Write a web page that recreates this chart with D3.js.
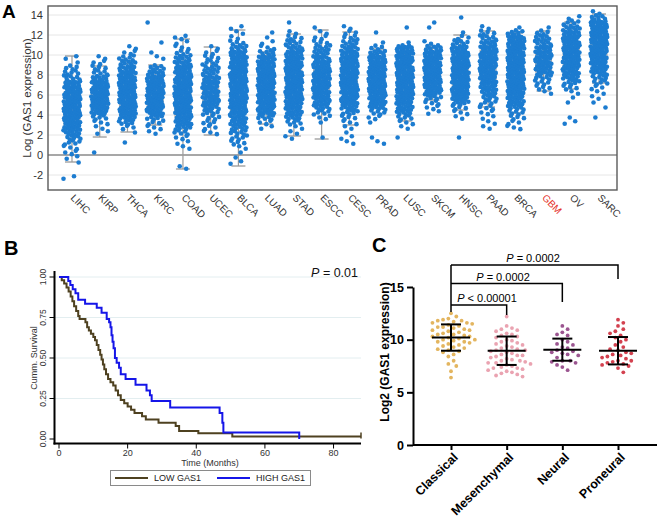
<!DOCTYPE html>
<html><head><meta charset="utf-8">
<script src="https://cdn.jsdelivr.net/npm/d3@7"></script>
<style>body{margin:0;background:#fff;}svg{display:block;}</style>
</head><body><svg id="c" width="660" height="517"></svg>
<script>
// ---------------- Panel A data ----------------
const cancerTypes = ["LIHC","KIRP","THCA","KIRC","COAD","UCEC","BLCA","LUAD","STAD","ESCC","CESC","PRAD","LUSC","SKCM","HNSC","PAAD","BRCA","GBM","OV","SARC"];
const highlightType = "GBM";
const yTicksA = [-2,0,2,4,6,8,10,12,14];
// [lower whisker, q1, median, q3, upper whisker]
const boxStats = [
  [-0.7,3.0,4.6,6.3,9.9],[1.8,4.6,5.6,6.7,8.9],[2.3,4.5,5.8,7.0,9.4],[3.0,4.8,5.8,6.8,9.0],
  [-1.4,3.8,5.8,7.6,11.6],[2.0,4.9,6.3,7.6,10.8],[-1.1,4.4,6.5,8.3,12.5],[3.1,5.6,6.8,8.1,10.3],
  [1.9,5.5,7.0,8.5,12.1],[1.6,5.9,7.6,9.0,12.5],[3.0,6.2,7.6,9.2,12.3],[4.7,6.3,7.3,8.4,10.6],
  [3.4,5.9,7.3,8.7,10.7],[5.5,7.0,8.0,9.1,10.9],[4.5,6.8,8.0,9.2,12.0],[4.8,7.5,9.0,10.5,12.4],
  [4.2,6.8,8.6,9.9,12.2],[6.4,8.3,9.3,10.3,12.4],[6.6,8.9,10.0,11.0,13.3],[7.2,9.8,10.8,11.8,14.1]
];
// number of samples in each 0.5-wide expression band, starting at densityStart
const binSize = 0.5;
const densityStart = [-2.5,0,1,2,-1.5,2,-1,2.5,1.5,1.5,1,1,1.5,4,1.5,2.5,2.5,6,3,3.5];
const densityCounts = [
  [2,0,0,1,2,3,3,5,6,8,10,12,13,14,14,14,14,13,12,10,6,5,4,1,2],
  [1,0,0,0,2,2,3,5,9,12,14,14,14,13,12,8,5,4,3,2],
  [1,0,1,3,6,9,12,14,14,14,14,14,14,13,11,9,7,5,3,2],
  [2,3,4,6,10,13,14,14,14,14,13,11,8,6,0,2,1,0,1,0,0,0,1],
  [2,0,0,0,2,2,3,5,7,9,11,12,13,14,14,14,14,14,13,12,11,9,7,4,3,2,3],
  [3,3,4,4,6,7,9,10,10,10,10,9,7,6,5,4,3,2],
  [2,1,1,2,4,5,6,7,8,9,11,12,13,14,14,14,14,14,14,14,13,12,10,7,4,2,2,2],
  [2,3,6,10,13,14,14,14,14,14,14,14,13,12,10,6,3,2,1,1],
  [2,2,2,5,7,9,11,13,14,14,14,14,14,14,14,13,12,10,8,6,4,2,0,1],
  [1,0,0,1,3,5,7,9,11,12,13,13,13,13,12,11,9,7,6,4,3,2,1],
  [2,2,1,2,3,4,6,8,11,13,14,14,14,14,14,14,13,12,10,8,6,4,3,2],
  [2,1,0,0,1,3,5,8,11,13,14,14,14,14,14,14,13,11,8,4,1,0,1],
  [1,0,2,3,5,7,9,11,13,14,14,14,14,14,14,14,13,12,9,1,0,0,1],
  [2,3,4,6,10,13,14,14,14,14,14,13,11,7,2,0,0,1,1],
  [1,0,0,0,2,3,4,7,10,13,14,14,14,14,14,14,13,12,9,6,3,1,0,0,1],
  [2,2,2,3,4,5,6,7,9,11,12,13,13,13,13,12,10,8,6,4,2],
  [3,3,4,5,7,9,11,13,14,14,14,14,14,14,14,14,14,13,11,6,1],
  [2,4,5,6,8,9,10,10,10,9,7,6,4,1],
  [2,1,0,0,1,1,2,4,6,8,10,11,12,13,13,13,13,12,10,8,5,2],
  [1,0,1,1,2,2,3,5,6,8,10,12,13,14,14,14,14,14,13,11,6,2]
];

// ---------------- Panel B data ----------------
const kmLowTime = [0,0.8,1.5,2.2,2.8,3.4,3.9,4.4,5.0,5.6,6.0,7.7,8.2,8.7,9.3,10.0,10.5,11.0,11.5,12.0,12.4,12.8,13.2,13.7,14.3,15.0,15.8,16.5,17.2,18.0,19.0,20.0,21.0,22.0,24.2,25.3,29.0,34.0,35.0,40.6,50.5,88];
const kmLowSurv = [1.0,0.98,0.96,0.935,0.91,0.88,0.85,0.82,0.79,0.76,0.74,0.72,0.69,0.67,0.65,0.63,0.61,0.58,0.55,0.52,0.49,0.46,0.43,0.40,0.37,0.35,0.33,0.30,0.27,0.24,0.22,0.20,0.18,0.16,0.14,0.12,0.10,0.08,0.05,0.035,0.015,0.015];
const kmHighTime = [0,2.7,3.3,4.0,4.8,5.6,7.6,11.0,12.4,13.9,14.6,15.0,15.3,15.6,15.9,16.3,16.8,17.5,18.0,19.4,22.3,25.5,26.5,27.0,32.4,46.8,47.6,47.9,70];
const kmHighSurv = [1.0,0.975,0.95,0.925,0.9,0.86,0.835,0.81,0.78,0.74,0.72,0.69,0.64,0.6,0.56,0.5,0.47,0.44,0.40,0.37,0.335,0.30,0.27,0.235,0.195,0.16,0.10,0.04,0.0];
const kmXTicks = [0,20,40,60,80];
const kmYTicks = [0,0.25,0.5,0.75,1.0];
const kmLabels = ["LOW GAS1","HIGH GAS1"];
const kmPValue = "0.01";

// ---------------- Panel C data ----------------
const subtypes = ["Classical","Mesenchymal","Neural","Proneural"];
const classicalVals = [12.5,12.2,12.0,11.9,11.8,11.8,11.7,11.6,11.6,11.5,11.4,11.3,11.2,11.2,11.1,11.0,10.9,10.9,10.8,10.7,10.6,10.5,10.5,10.4,10.3,10.3,10.2,10.1,10.0,10.0,9.9,9.8,9.8,9.7,9.6,9.5,9.4,9.3,9.2,9.1,9.0,8.9,8.8,8.6,8.4,8.0,7.7,7.5,7.0,6.4];
const mesenchymalVals = [12.2,11.3,11.1,11.0,10.9,10.8,10.6,10.5,10.4,10.3,10.2,10.0,9.9,9.8,9.7,9.6,9.5,9.4,9.3,9.2,9.1,9.0,9.0,8.9,8.8,8.7,8.6,8.5,8.5,8.4,8.3,8.2,8.1,8.0,8.0,7.9,7.8,7.8,7.7,7.6,7.5,7.4,7.3,7.3,7.2,7.1,7.0,6.9,6.8,6.7,6.6,6.5];
const neuralVals = [11.3,11.0,10.7,10.5,10.4,10.0,9.8,9.6,9.5,9.3,9.2,9.0,8.9,8.8,8.7,8.6,8.5,8.3,8.0,8.0,7.9,7.8,7.6,7.4,7.1];
const proneuralVals = [11.9,11.6,11.3,11.0,10.8,10.6,10.4,10.2,10.0,9.8,9.5,9.3,9.1,9.0,8.8,8.7,8.6,8.5,8.4,8.3,8.2,8.0,8.0,7.9,7.8,7.7,7.6,7.5,7.3,6.9];
const subtypeMean = [10.2,8.95,9.05,8.95];
const subtypeSD = [1.25,1.35,1.05,1.3];
const subtypeColors = ["#e3b55f","#eaa3b1","#9b5590","#d3414f"];
const yTicksC = [0,5,10,15];
const comparisons = [["Classical","Mesenchymal","< 0.00001"],["Classical","Neural","= 0.0002"],["Classical","Proneural","= 0.0002"]];

// ---------------- Drawing ----------------
const FONT = 'Arial, "Liberation Sans", Helvetica, sans-serif';
const svg = d3.select("#c").style("font-family", FONT);

// ===== Panel A =====
const gA = svg.append("g");
const A = {l:48, r:617, t:6, b:190};
const xA = d3.scalePoint().domain(cancerTypes).range([72, 599]);
const yA = d3.scaleLinear().domain([-3.5, 14.9]).range([A.b, A.t]);

gA.selectAll("line.grid").data(yTicksA.filter(d => d !== 0)).join("line")
  .attr("x1", A.l).attr("x2", A.r).attr("y1", d => yA(d)).attr("y2", d => yA(d))
  .attr("stroke", "#e6e6e6").attr("stroke-width", 1);
gA.append("line").attr("x1", A.l).attr("x2", A.r).attr("y1", yA(0)).attr("y2", yA(0))
  .attr("stroke", "#8a8a8a").attr("stroke-width", 1.5);

const axAy = gA.append("g").attr("transform", `translate(${A.l},0)`)
  .call(d3.axisLeft(yA).tickValues(yTicksA).tickSize(0).tickPadding(5).tickFormat(d => String(d)));
axAy.select(".domain").remove();
axAy.selectAll("text").attr("font-size", 11).attr("fill", "#333").attr("font-family", FONT);

const axAx = gA.append("g").attr("transform", `translate(0,${A.b})`)
  .call(d3.axisBottom(xA).tickSize(0));
axAx.select(".domain").remove();
axAx.selectAll("text").attr("x", 0).attr("y", 0).attr("dy", "0.35em")
  .attr("transform", "translate(0,6) rotate(45)").style("text-anchor", "start")
  .attr("font-size", 10).attr("font-family", FONT)
  .attr("fill", d => d === highlightType ? "#e4322b" : "#333");

gA.append("text").attr("transform", `translate(27,${(A.t + A.b) / 2}) rotate(-90)`)
  .attr("text-anchor", "middle").attr("dy", "0.35em").attr("font-size", 11.5).attr("fill", "#333")
  .text("Log (GAS1 expression)");

// boxes & whiskers
const boxG = gA.append("g");
cancerTypes.forEach((c, i) => {
  const [lo, q1, md, q3, hi] = boxStats[i];
  const cx = xA(c);
  boxG.append("rect").attr("x", cx - 8).attr("width", 16).attr("y", yA(q3)).attr("height", yA(q1) - yA(q3))
    .attr("fill", "#d6d6d6").attr("stroke", "#a8a8a8").attr("stroke-width", 1);
  boxG.append("line").attr("x1", cx).attr("x2", cx).attr("y1", yA(hi)).attr("y2", yA(lo)).attr("stroke", "#9a9a9a").attr("stroke-width", 1.2);
  [lo, hi].forEach(v => boxG.append("line").attr("x1", cx - 7).attr("x2", cx + 7).attr("y1", yA(v)).attr("y2", yA(v)).attr("stroke", "#9a9a9a").attr("stroke-width", 1.3));
});

// jittered samples
const dotsA = [];
densityCounts.forEach((counts, ci) => {
  const cx = xA(cancerTypes[ci]);
  counts.forEach((n, k) => {
    const lo = densityStart[ci] + k * binSize;
    for (let i = 0; i < n; i++) {
      const v = lo + (i + 0.5) / n * binSize;
      const u = (i * 0.618034 + k * 0.2971 + ci * 0.173) % 1;
      dotsA.push({x: cx + (u - 0.5) * 17, y: yA(v)});
    }
  });
});
gA.append("g").selectAll("circle").data(dotsA).join("circle")
  .attr("cx", d => d.x).attr("cy", d => d.y).attr("r", 2.3).attr("fill", "#1c7cd0");

gA.append("rect").attr("x", A.l).attr("y", A.t).attr("width", A.r - A.l).attr("height", A.b - A.t)
  .attr("fill", "none").attr("stroke", "#5a5a5a").attr("stroke-width", 1.4);

// panel labels
svg.append("text").attr("x", 2).attr("y", 18).attr("font-size", 19).attr("font-weight", "bold").text("A");
svg.append("text").attr("x", 4).attr("y", 255).attr("font-size", 20).attr("font-weight", "bold").text("B");
svg.append("text").attr("x", 372).attr("y", 252).attr("font-size", 20).attr("font-weight", "bold").text("C");

// ===== Panel B =====
const gB = svg.append("g");
const xB = d3.scaleLinear().domain([0, 88]).range([59, 361]);
const yB = d3.scaleLinear().domain([0, 1]).range([439, 277]);
const axisYB = 443.5, axisXB = 54.5;
gB.selectAll("line.grid").data(kmYTicks.filter(d => d > 0)).join("line")
  .attr("x1", axisXB).attr("x2", 361).attr("y1", d => yB(d)).attr("y2", d => yB(d))
  .attr("stroke", "#e3eef0").attr("stroke-width", 1);
// axes
gB.append("line").attr("x1", axisXB).attr("x2", axisXB).attr("y1", 271).attr("y2", axisYB + 1).attr("stroke", "#000").attr("stroke-width", 2);
gB.append("line").attr("x1", axisXB - 1).attr("x2", 361).attr("y1", axisYB).attr("y2", axisYB).attr("stroke", "#000").attr("stroke-width", 2);
gB.selectAll("line.yt").data(kmYTicks).join("line").attr("x1", axisXB - 5).attr("x2", axisXB)
  .attr("y1", d => yB(d)).attr("y2", d => yB(d)).attr("stroke", "#000").attr("stroke-width", 1);
gB.selectAll("text.yt").data(kmYTicks).join("text")
  .attr("transform", d => `translate(${axisXB - 9},${yB(d)}) rotate(-90)`).attr("text-anchor", "middle")
  .attr("font-size", 8.5).attr("fill", "#333").text(d => d3.format(".2f")(d));
gB.selectAll("line.xt").data(kmXTicks).join("line").attr("x1", d => xB(d)).attr("x2", d => xB(d))
  .attr("y1", axisYB).attr("y2", axisYB + 5).attr("stroke", "#000").attr("stroke-width", 1);
gB.selectAll("text.xt").data(kmXTicks).join("text").attr("x", d => xB(d)).attr("y", 456)
  .attr("text-anchor", "middle").attr("font-size", 9).attr("fill", "#333").text(d => d);
gB.append("text").attr("x", 210).attr("y", 466).attr("text-anchor", "middle").attr("font-size", 9).attr("fill", "#333").text("Time (Months)");
gB.append("text").attr("transform", "translate(34,358) rotate(-90)").attr("text-anchor", "middle").attr("dy", "0.35em")
  .attr("font-size", 9).attr("fill", "#333").text("Cumm. Survival");

const kmLine = d3.line().x(d => xB(d[0])).y(d => yB(d[1])).curve(d3.curveStepAfter);
const lowPts = kmLowTime.map((t, i) => [t, kmLowSurv[i]]);
const highPts = kmHighTime.map((t, i) => [t, kmHighSurv[i]]);
const kmColors = ["#4e4120", "#1515e8"];
gB.append("path").attr("d", kmLine(lowPts)).attr("fill", "none").attr("stroke", kmColors[0]).attr("stroke-width", 2);
gB.append("path").attr("d", kmLine(highPts)).attr("fill", "none").attr("stroke", kmColors[1]).attr("stroke-width", 2);
// censor mark at end of low curve
const lastLow = lowPts[lowPts.length - 1];
gB.append("line").attr("x1", xB(lastLow[0])).attr("x2", xB(lastLow[0])).attr("y1", yB(lastLow[1]) - 4).attr("y2", yB(lastLow[1]) + 2)
  .attr("stroke", kmColors[0]).attr("stroke-width", 1.5);

const pB = gB.append("text").attr("x", 358).attr("y", 277).attr("text-anchor", "end").attr("font-size", 12.5).attr("fill", "#111");
pB.append("tspan").attr("font-style", "italic").text("P");
pB.append("tspan").text(" = " + kmPValue);

// legend
const leg = gB.append("g");
leg.append("rect").attr("x", 110.5).attr("y", 470.5).attr("width", 200).attr("height", 15).attr("fill", "#fff").attr("stroke", "#8a8a8a");
const legX = [115, 217];
kmLabels.forEach((lab, i) => {
  leg.append("line").attr("x1", legX[i]).attr("x2", legX[i] + 33).attr("y1", 478).attr("y2", 478).attr("stroke", kmColors[i]).attr("stroke-width", 2);
  leg.append("text").attr("x", legX[i] + 39).attr("y", 481.3).attr("font-size", 9).attr("fill", "#222").text(lab);
});

// ===== Panel C =====
const gC = svg.append("g");
const xC = d3.scalePoint().domain(subtypes).range([451, 618]);
const yC = d3.scaleLinear().domain([0, 15]).range([445, 287]);
const axCy = gC.append("g").attr("transform", "translate(413,0)")
  .call(d3.axisLeft(yC).tickValues(yTicksC).tickSize(6).tickSizeOuter(0).tickPadding(3));
axCy.select(".domain").attr("stroke-width", 2);
axCy.selectAll(".tick line").attr("stroke-width", 2);
axCy.selectAll("text").attr("font-size", 12.5).attr("font-weight", "bold").attr("font-family", FONT).attr("fill", "#000");
const axCx = gC.append("g").attr("transform", "translate(0,445)")
  .call(d3.axisBottom(xC).tickSize(5).tickSizeOuter(0));
axCx.select(".domain").attr("d", "M413,0H657").attr("stroke-width", 2);
axCx.selectAll(".tick line").attr("stroke-width", 2);
axCx.selectAll("text").attr("x", 0).attr("y", 0).attr("dy", "0.35em")
  .attr("transform", "translate(4,10) rotate(-45)").style("text-anchor", "end")
  .attr("font-size", 12.5).attr("font-weight", "bold").attr("font-family", FONT).attr("fill", "#000");
gC.append("text").attr("transform", "translate(385,352) rotate(-90)").attr("text-anchor", "middle").attr("dy", "0.35em")
  .attr("font-size", 12).attr("font-weight", "bold").text("Log2 (GAS1 expression)");

function beeswarm(values, cx, D) {
  const pts = [];
  values.slice().sort((a, b) => b - a).forEach(v => {
    const py = yC(v);
    let k = 0, px;
    for (;;) {
      const off = k === 0 ? 0 : (k % 2 ? 1 : -1) * Math.ceil(k / 2) * D * 0.5;
      px = cx + off;
      if (pts.every(p => (p.x - px) ** 2 + (p.y - py) ** 2 >= D * D)) break;
      k++;
    }
    pts.push({x: px, y: py});
  });
  return pts;
}
const subtypeVals = [classicalVals, mesenchymalVals, neuralVals, proneuralVals];
subtypes.forEach((s, i) => {
  const cx = xC(s);
  const pts = beeswarm(subtypeVals[i], cx, 5.3);
  gC.append("g").selectAll("circle").data(pts).join("circle")
    .attr("cx", d => d.x).attr("cy", d => d.y).attr("r", 1.9).attr("fill", subtypeColors[i]);
  const m = subtypeMean[i], sd = subtypeSD[i];
  const eg = gC.append("g").attr("stroke", "#000").attr("stroke-width", 2);
  eg.append("line").attr("x1", cx - 19).attr("x2", cx + 19).attr("y1", yC(m)).attr("y2", yC(m));
  eg.append("line").attr("x1", cx).attr("x2", cx).attr("y1", yC(m + sd)).attr("y2", yC(m - sd));
  [m + sd, m - sd].forEach(v => eg.append("line").attr("x1", cx - 10).attr("x2", cx + 10).attr("y1", yC(v)).attr("y2", yC(v)));
});

// significance brackets
const brTop = [305, 283.5, 265];
const brDrop = [315, 302, 279];
const brText = [487, 503, 533];
const brG = gC.append("g");
brG.append("line").attr("x1", xC("Classical")).attr("x2", xC("Classical")).attr("y1", brTop[2]).attr("y2", 312).attr("stroke", "#000").attr("stroke-width", 1.5);
comparisons.forEach(([a, b, p], i) => {
  brG.append("path").attr("d", `M${xC(a)},${brTop[i]}H${xC(b)}V${brDrop[i]}`).attr("fill", "none").attr("stroke", "#000").attr("stroke-width", 1.5);
  const t = brG.append("text").attr("x", brText[i]).attr("y", brTop[i] - 3).attr("text-anchor", "middle").attr("font-size", 11).attr("fill", "#000");
  t.append("tspan").attr("font-style", "italic").text("P");
  t.append("tspan").text(" " + p);
});
</script></body></html>
